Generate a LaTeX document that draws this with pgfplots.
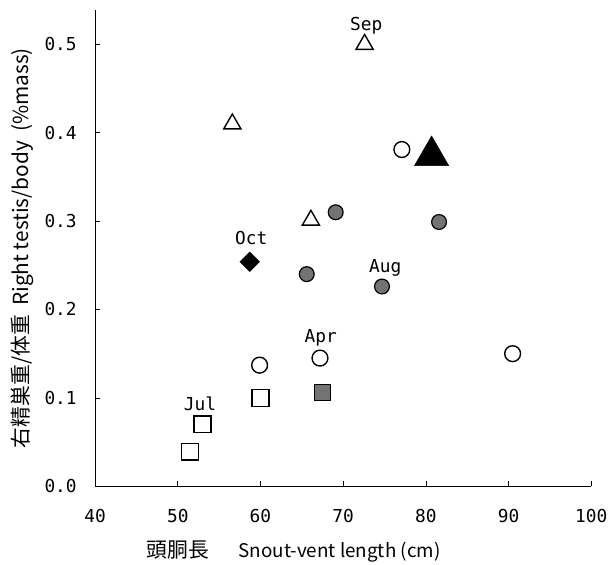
\documentclass[border=0pt]{standalone}
\usepackage{fontspec}
\setmainfont{Noto Sans CJK JP}
\newfontfamily\monofont{DejaVu Sans Mono}
\usepackage{pgfplots}
\pgfplotsset{compat=1.18}

\begin{document}
\begin{tikzpicture}
\begin{axis}[
    name=ax,
    scale only axis,
    width=501pt, height=481pt,
    xmin=40, xmax=100, ymin=0, ymax=0.539,
    axis lines=left,
    axis line style={-, line width=0.8pt},
    tick align=inside,
    major tick length=5pt,
    tick style={line width=0.6pt, black},
    xtick={40,50,...,100},
    ytick={0,0.1,...,0.5},
    yticklabel style={/pgf/number format/fixed, /pgf/number format/fixed zerofill, /pgf/number format/precision=1},
    /pgf/number format/assume math mode=true,
    ticklabel style={font=\monofont\fontsize{18}{18}\selectfont},
    xticklabel style={yshift=-20pt},
    yticklabel style={xshift=-15pt},
    xlabel={{\fontsize{21}{21}\selectfont 頭胴長}\hspace{30pt}Snout-vent length (cm)},
    ylabel={右精巣重/体重\ \ Right testis/body\ \ (\%mass)},
    ylabel style={font=\fontsize{21}{21}\selectfont, at={(axis description cs:0,0.5)}, anchor=south, yshift=58pt},
    xlabel style={font=\fontsize{19}{19}\selectfont, at={(axis description cs:0.40,0)}, anchor=north, yshift=-52pt},
    clip=false,
]
% open triangles
\addplot[only marks, mark=triangle, mark size=10pt, mark options={line width=1.4pt, fill=white}]
  coordinates {(72.6,0.500)(56.6,0.410)(66.1,0.301)};
% big filled triangle
\addplot[only marks, mark=triangle*, mark size=20pt, mark options={fill=black}]
  coordinates {(80.7,0.374)};
% open circles
\addplot[only marks, mark=o, mark size=8pt, mark options={line width=1.4pt}]
  coordinates {(77.1,0.381)(67.2,0.145)(59.9,0.137)(90.5,0.150)};
% hatched circles
\addplot[only marks, mark=*, mark size=7.5pt, mark options={line width=1.2pt, fill=black!55}]
  coordinates {(69.1,0.310)(81.6,0.299)(65.6,0.240)(74.7,0.226)};
% filled diamond
\addplot[only marks, mark=square*, mark size=7pt, mark options={rotate=45, fill=black}]
  coordinates {(58.7,0.254)};
% hatched square
\addplot[only marks, mark=square*, mark size=8pt, mark options={line width=1.2pt, fill=black!55}]
  coordinates {(67.5,0.106)};
% open squares
\addplot[only marks, mark=square, mark size=8.5pt, mark options={line width=1.4pt}]
  coordinates {(60.0,0.100)(53.0,0.070)(51.5,0.039)};
\begin{scope}[every node/.style={font=\monofont\fontsize{18}{18}\selectfont}]
\node at (axis cs:72.8,0.521) {Sep};
\node at (axis cs:58.9,0.281) {Oct};
\node at (axis cs:75.1,0.247) {Aug};
\node at (axis cs:67.3,0.168) {Apr};
\node at (axis cs:52.7,0.093) {Jul};
\end{scope}
\end{axis}
\pgfresetboundingbox
\path[use as bounding box] ([xshift=-96pt,yshift=-79pt]ax.south west) rectangle ([xshift=19pt,yshift=10pt]ax.north east);
\end{tikzpicture}
\end{document}
